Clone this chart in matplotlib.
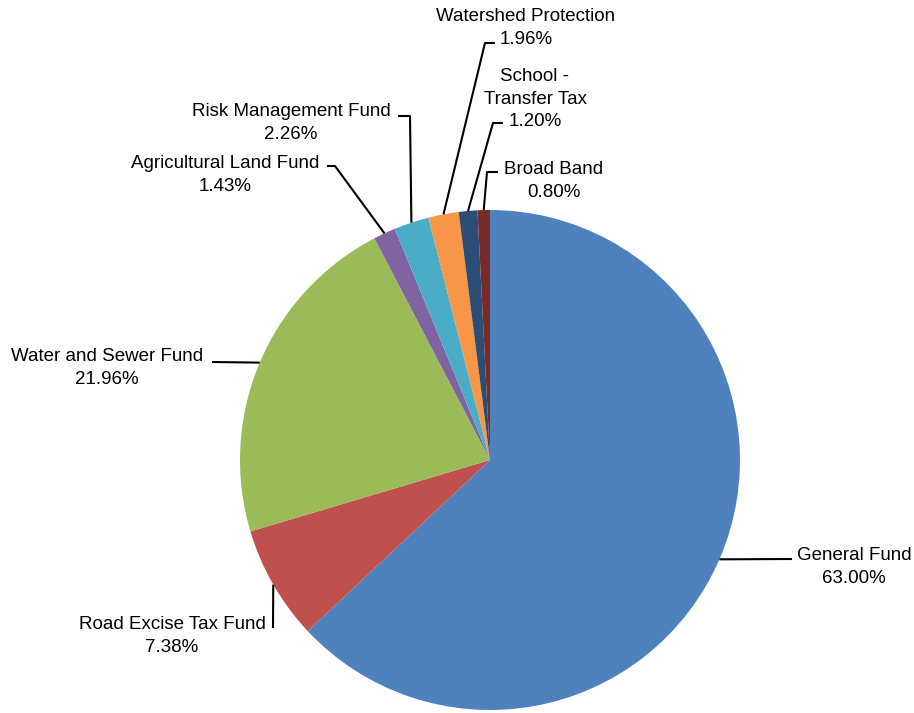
"""Fund share pie chart with Excel-style leader-line labels."""

import math

import matplotlib
import matplotlib.pyplot as plt

matplotlib.use("Agg")

W, H = 914, 713

FUNDS = [
    "General Fund",
    "Road Excise Tax Fund",
    "Water and Sewer Fund",
    "Agricultural Land Fund",
    "Risk Management Fund",
    "Watershed Protection",
    "School -\nTransfer Tax",
    "Broad Band",
]
SHARES = [63.00, 7.38, 21.96, 1.43, 2.26, 1.96, 1.20, 0.80]
COLORS = ["#4F81BD", "#C0504D", "#9BBB59", "#8064A2",
          "#4BACC6", "#F79646", "#2C4D75", "#772C2A"]

# label layout in image pixels (y down): text centre, elbow points of leader
LAYOUT = {
    "General Fund": ((854, 567), [(792, 559)]),
    "Road Excise Tax Fund": ((172, 636), [(273, 628)]),
    "Water and Sewer Fund": ((107, 368), [(212, 362)]),
    "Agricultural Land Fund": ((225, 175), [(335, 166), (327, 166)]),
    "Risk Management Fund": ((291, 123), [(410, 116), (398, 116)]),
    "Watershed Protection": ((526, 28), [(485, 43), (495, 43)]),
    "School -\nTransfer Tax": ((535, 99), [(493, 123), (503, 123)]),
    "Broad Band": ((554, 181), [(487, 172), (498, 172)]),
}

plt.rcParams["font.family"] = ["Liberation Sans", "DejaVu Sans"]

fig = plt.figure(figsize=(W / 100, H / 100), dpi=100)
ax = fig.add_axes([0, 0, 1, 1])

wedges, _ = ax.pie(SHARES, colors=COLORS, startangle=90, counterclock=False,
                   center=(490, H - 460), radius=250,
                   wedgeprops=dict(linewidth=0))
ax.set_xlim(0, W)
ax.set_ylim(0, H)
ax.set_aspect("equal")
ax.axis("off")

for wedge, name, share in zip(wedges, FUNDS, SHARES):
    (tx, ty), elbows = LAYOUT[name]
    ang = math.radians((wedge.theta1 + wedge.theta2) / 2)
    cx, cy = wedge.center
    px = cx + wedge.r * math.cos(ang)
    py = cy + wedge.r * math.sin(ang)
    xs = [px] + [x for x, _ in elbows]
    ys = [py] + [H - y for _, y in elbows]
    ax.plot(xs, ys, color="black", linewidth=1.5, solid_capstyle="butt")
    ax.text(tx, H - ty, f"{name}\n{share:.2f}%", ha="center", va="center",
            fontsize=13.5, linespacing=1.4, color="black")

fig.savefig("out.png", dpi=100, facecolor="white")
